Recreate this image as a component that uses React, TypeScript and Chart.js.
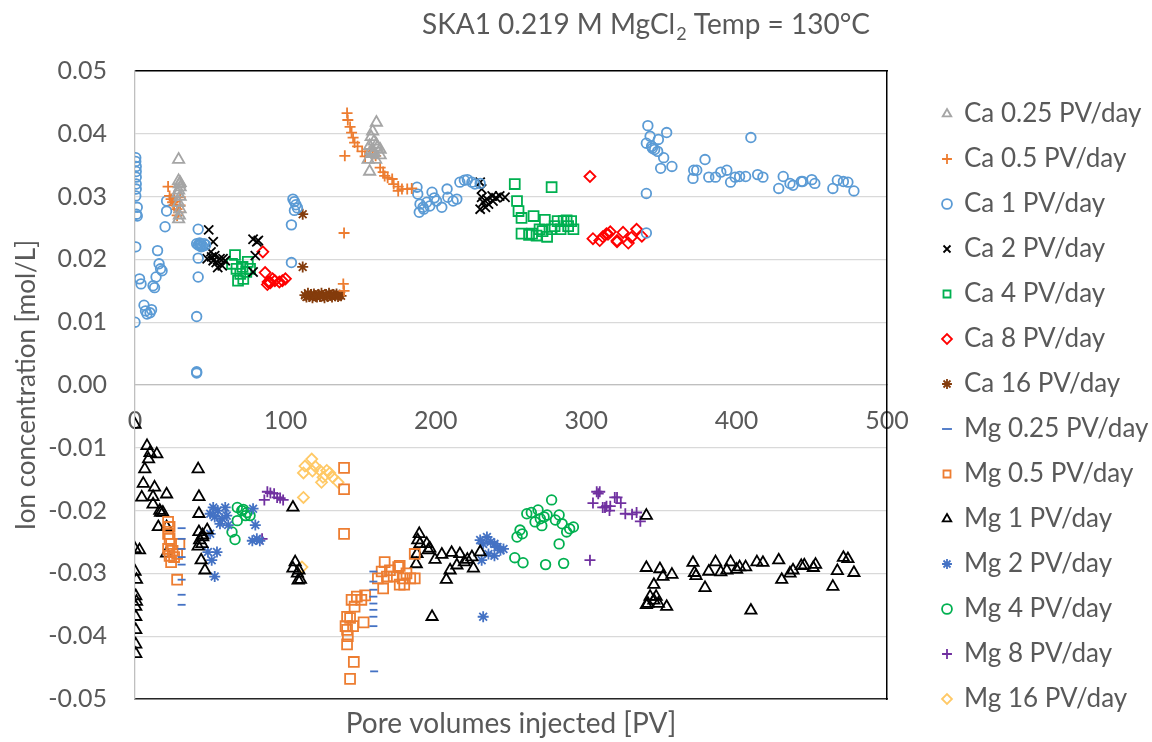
import React, { useEffect, useRef } from 'react';
import { Chart, registerables } from 'chart.js';
Chart.register(...registerables);

const FONT = 'Lato, "Open Sans", sans-serif';
const TEXT = '#595959';

const titleMain = 'SKA1 0.219 M MgCl';
const titleSub = '2';
const titleEnd = ' Temp = 130°C';
const xTitle = 'Pore volumes injected [PV]';
const yTitle = 'Ion concentration [mol/L]';
const xTicks = [0, 100, 200, 300, 400, 500];
const yTicks = [-0.05, -0.04, -0.03, -0.02, -0.01, 0, 0.01, 0.02, 0.03, 0.04, 0.05];

type P = [number, number];

const caQuarter: P[] = [[29,0.0359],[29,0.0325],[29.5,0.032],[30,0.0315],[29,0.031],[30,0.030],[29,0.029],[30,0.028],[29.5,0.027],[29,0.0264],[28.5,0.0305],[30,0.0322],
  [160.5,0.0418],[158,0.0404],[157,0.0395],[159,0.0388],[160.5,0.0383],[156,0.0381],[163,0.0375],[157,0.0373],[158,0.0368],[163,0.0366],[155,0.0359],[160,0.0359],[156,0.034],[161,0.0378],[159,0.037]];
const caHalf: P[] = [[22,0.0316],[23,0.0301],[24,0.0296],[25,0.0291],[26,0.0286],[28,0.028],[29,0.0275],[28,0.027],[30,0.0299],[30,0.0286],[26,0.030],[27,0.0292],
  [139.5,0.0365],[141,0.0433],[141.5,0.0422],[143,0.0411],[144,0.0402],[145,0.0394],[146,0.0386],[148,0.038],[151,0.0372],[153,0.0364],[156,0.0372],[158,0.0368],[160,0.0365],[163,0.0346],[165,0.0339],[166,0.0333],[168,0.033],[171,0.0328],[172,0.032],[175,0.0316],[177.5,0.0312],[181,0.0312],[184,0.0313],[175,0.0309],[139,0.0242],[138.5,0.0161],[139,0.015]];
const caOne: P[] = [[0.5,0.0362],[0.5,0.0356],[0.8,0.0348],[0.8,0.034],[0.8,0.0331],[0.8,0.032],[0.8,0.0312],[0.5,0.0301],[1.5,0.0283],[1,0.0272],[1.5,0.0269],[0.5,0.022],[0,0.0100],
  [3,0.0169],[4,0.0161],[6,0.0127],[7,0.0118],[8,0.0113],[10,0.0115],[11,0.012],[12,0.0158],[13,0.0155],[14,0.0172],[16,0.0193],[17,0.0185],[18,0.0182],[15,0.0214],[21,0.0293],[21,0.0277],[20,0.0252],
  [42,0.0248],[41,0.0225],[42,0.0223],[43,0.0222],[44,0.0224],[45,0.0221],[46,0.0225],[47,0.0223],[43,0.0226],[42,0.0202],[42,0.0172],[41,0.0109],[41,0.0021],[41,0.0019],[44,0.022],
  [105,0.0296],[106,0.0292],[107,0.0287],[108,0.0282],[106,0.0278],[104,0.0255],[104,0.0195],
  [187.5,0.0315],[188,0.0304],[189.5,0.0288],[189,0.0275],[191.5,0.0283],[194,0.0291],[196,0.0285],[197.5,0.0307],[200.5,0.0293],[204,0.0283],[207.5,0.0312],[208,0.0299],[211.5,0.0293],[214,0.0296],[216,0.0323],[219,0.0326],[221,0.0327],[224,0.0323],[226,0.032],[229.5,0.0321],[192,0.028],[199,0.0298],
  [341,0.0413],[342.5,0.0396],[340,0.0385],[343.5,0.038],[344,0.0377],[345.5,0.0375],[347.5,0.0372],[348,0.0391],[353.5,0.0402],[351.5,0.0362],[349.5,0.0345],[357,0.0348],[340,0.0305],[340,0.0242],
  [371,0.0329],[371.5,0.0342],[373.5,0.0342],[379,0.0359],[381.5,0.0331],[386,0.0331],[389.5,0.0339],[393.5,0.0342],[396,0.0323],[399,0.0331],[402,0.0332],[406,0.0332],[409.5,0.0394],[414,0.0335],[417.5,0.0331],[428,0.0313],[431,0.0332],[435.5,0.0321],[437.5,0.0318],[443,0.0324],[444,0.0324],[450,0.0327],[452,0.0321],[464,0.0313],[467,0.0326],[471,0.0324],[474,0.0323],[478,0.0309]];
const caTwo: P[] = [[49,0.0247],[52,0.0228],[50.5,0.0212],[53,0.0206],[56.5,0.0201],[52,0.0198],[58,0.019],[55,0.0187],[51,0.0204],[58.5,0.0201],[48,0.0201],[54,0.0195],[60,0.0198],
  [78.5,0.0232],[81,0.0228],[82,0.023],[80,0.0206],[78.5,0.018],
  [229.5,0.0323],[230.5,0.0312],[230.5,0.0299],[231.5,0.0291],[229.5,0.028],[234,0.0296],[237.5,0.0301],[240,0.0298],[242.5,0.0301],[246,0.0299],[235,0.0288],[233,0.0283],[238,0.0293]];
const caFour: P[] = [[66.5,0.0207],[64.5,0.0193],[67.5,0.0185],[70,0.0177],[68.5,0.0166],[72,0.0169],[75,0.0196],[74,0.018],[71.5,0.0188],[76.5,0.0185],
  [252.5,0.032],[277,0.0315],[254,0.0293],[255,0.0277],[257,0.0266],[265,0.0269],[272.5,0.0263],[257,0.0241],[262,0.0239],[264,0.0241],[267,0.0238],[269,0.0248],[271,0.0245],[274,0.0236],[277,0.0248],[279,0.0253],[281,0.0261],[285,0.0261],[287,0.0262],[290,0.0261],[291.5,0.0248],[288,0.0253],[283,0.0248]];
const caEight: P[] = [[85,0.0212],[86.5,0.0179],[88.5,0.0164],[90,0.0163],[93,0.0166],[96,0.0164],[98,0.0166],[100,0.0169],[88,0.016],[91.5,0.0169],
  [302.5,0.0332],[304.5,0.0233],[309,0.023],[311,0.0236],[313.5,0.0241],[316,0.0244],[320.5,0.023],[314.5,0.024],[320.5,0.0228],[324.5,0.0243],[328,0.0226],[330,0.0235],[333.5,0.0248],[337,0.0237]];
const caSixteen: P[] = [[113,0.0143],[114,0.0140],[115,0.0146],[116,0.0141],[117,0.0144],[118,0.0139],[119,0.0145],[120,0.0142],[121,0.0140],[122,0.0144],[123,0.0141],[124,0.0146],[125,0.0142],[126,0.0139],[127,0.0144],[128,0.0141],[129,0.0146],[130,0.0143],[131,0.0140],[132,0.0144],[133,0.0142],[134,0.0145],[135,0.0141],[136,0.0143],[137,0.0142],[111.5,0.0272],[111.5,0.0188]];

const mgQuarter: P[] = [[31,-0.0228],[31,-0.0245],[31,-0.0261],[31,-0.0274],[31,-0.0286],[31,-0.031],[31,-0.0334],[31,-0.035],
  [158.5,-0.0297],[158.5,-0.0313],[158.5,-0.0326],[158.5,-0.0337],[158.5,-0.0348],[158.5,-0.0358],[158.5,-0.0369],[158.5,-0.0384],[159,-0.0456]];
const mgHalf: P[] = [[22,-0.0218],[23,-0.0226],[22,-0.0237],[23,-0.0245],[24,-0.0253],[22,-0.0261],[25,-0.0264],[23,-0.0272],[26,-0.0274],[24,-0.0282],[28,-0.0269],[29.5,-0.0253],[28,-0.031],
  [139,-0.0132],[139,-0.0166],[139,-0.0237],[141,-0.0369],[140,-0.0384],[141.5,-0.04],[141,-0.0413],[145.5,-0.0441],[143,-0.0468],[145,-0.0384],[144,-0.0342],[147.5,-0.0337],[150.5,-0.0342],[153,-0.0335],[152,-0.0378],[141,-0.039],[143,-0.0371],[146,-0.0353],
  [161.5,-0.0308],[164,-0.0297],[165,-0.0324],[167.5,-0.0305],[169.5,-0.0295],[172,-0.0305],[175,-0.029],[176,-0.0288],[178,-0.0308],[180.5,-0.03],[183,-0.0308],[186,-0.0308],[176,-0.0318],[179,-0.0318],[186,-0.0269],[166,-0.0282]];
const mgOne: P[] = [[0,-0.0063],[0,-0.0261],[3,-0.0263],[0,-0.0297],[1,-0.031],[0.5,-0.0336],[1,-0.0345],[0.5,-0.0353],[0.5,-0.0369],[0.5,-0.039],[0.5,-0.0413],[0.5,-0.0428],
  [8,-0.0097],[10,-0.0108],[14.5,-0.011],[9,-0.0118],[6.5,-0.0134],[5.5,-0.0157],[4.5,-0.0179],[13,-0.0163],[12,-0.0178],[21,-0.0174],[12,-0.019],[16.5,-0.02],[17,-0.0203],[15.5,-0.0226],[21,-0.0226],[21,-0.0268],[18.5,-0.0203],
  [42,-0.0134],[42.5,-0.0178],[42.5,-0.0205],[42.5,-0.0234],[43,-0.0247],[44.5,-0.0253],[45,-0.0239],[42,-0.0257],[44,-0.0279],[46.5,-0.0295],[45,-0.0242],[48,-0.0231],
  [105,-0.0195],[106.5,-0.0282],[105,-0.0292],[108,-0.03],[108.5,-0.0311],[110,-0.031],[109,-0.0295],
  [189,-0.0237],[188,-0.0247],[189.5,-0.0253],[187.5,-0.0269],[187,-0.0285],[194,-0.0253],[195,-0.0263],[196,-0.026],[199.5,-0.0278],[204,-0.027],[210.5,-0.0267],[216,-0.0269],[209.5,-0.0295],[207,-0.031],[214,-0.0287],[219,-0.0282],[221,-0.0278],[224,-0.0274],[225,-0.0292],[229.5,-0.0266],[197.5,-0.0369],
  [340,-0.0208],[340,-0.0291],[349,-0.0293],[351,-0.0305],[357,-0.0302],[345,-0.0318],[342.5,-0.0337],[341,-0.0348],[345,-0.0343],[346.5,-0.0337],[348,-0.0348],[353.5,-0.0353],[340,-0.035],
  [371,-0.0283],[372,-0.0299],[373,-0.0304],[379,-0.0323],[381.5,-0.0297],[386,-0.0282],[389.5,-0.0298],[393.5,-0.0295],[396,-0.0282],[400,-0.0294],[402,-0.029],[406,-0.029],[409.5,-0.0359],[413.5,-0.0282],[417.5,-0.0283],[428,-0.0279],[430,-0.031],[435.5,-0.03],[437.5,-0.0295],[443,-0.0288],[445,-0.0287],[451,-0.0291],[452.5,-0.0286],[464,-0.0321],[467,-0.0296],[471,-0.0275],[474,-0.0277],[478,-0.0299]];
const mgTwo: P[] = [[52,-0.0195],[55,-0.02],[60,-0.0195],[50,-0.0205],[53,-0.021],[58,-0.0213],[61,-0.0208],[56.5,-0.0221],[62,-0.0223],[50,-0.0237],[48.5,-0.0266],[54.5,-0.0266],[51,-0.0279],[53,-0.0305],[78.5,-0.0197],[80,-0.0223],[81,-0.0245],[83,-0.0248],[78,-0.0248],
  [229.5,-0.0247],[231.5,-0.0253],[234,-0.0242],[236.5,-0.025],[239,-0.0253],[241,-0.0258],[243,-0.0263],[245,-0.0261],[230.5,-0.0279],[235,-0.0269],[239,-0.0272],[231.5,-0.0369]];
const mgFour: P[] = [[68,-0.0195],[72,-0.0198],[74.5,-0.0203],[76.5,-0.0208],[73.5,-0.0208],[68,-0.0216],[64.5,-0.0234],[66.5,-0.0246],[71,-0.02],
  [256,-0.0231],[254,-0.0242],[257.5,-0.0237],[260.5,-0.0205],[263.5,-0.0203],[268,-0.0199],[266,-0.0218],[269.5,-0.0213],[270.5,-0.0224],[274,-0.0207],[277,-0.0183],[279.5,-0.0215],[282,-0.0207],[284,-0.0221],[287,-0.0234],[289,-0.0229],[291.5,-0.0226],[282,-0.0253],[252.5,-0.0275],[258,-0.0283],[273,-0.0286],[285,-0.0284],[272,-0.021]];
const mgEight: P[] = [[88,-0.017],[90,-0.0172],[92.5,-0.0173],[94.5,-0.0179],[96.5,-0.018],[98.5,-0.0183],[86,-0.0183],[84.5,-0.0245],
  [307,-0.017],[308,-0.0173],[304.5,-0.0188],[311,-0.0195],[313.5,-0.0193],[315.5,-0.02],[319,-0.0179],[302.5,-0.0279],
  [309,-0.017],[312.5,-0.0195],[316,-0.0193],[320.5,-0.0179],[323,-0.0188],[326,-0.0205],[330.5,-0.0206],[333.5,-0.0203],[336,-0.0217]];
const mgSixteen: P[] = [[117.5,-0.0118],[113,-0.0129],[120,-0.013],[123,-0.0136],[118,-0.0137],[112,-0.014],[125,-0.0147],[129.5,-0.014],[131.5,-0.0147],[124,-0.0155],[135,-0.0155],[112,-0.0179],[111,-0.029],[127.5,-0.0136]];

const seriesLabels = ['Ca 0.25 PV/day','Ca 0.5 PV/day','Ca 1 PV/day','Ca 2 PV/day','Ca 4 PV/day','Ca 8 PV/day','Ca 16 PV/day',
  'Mg 0.25 PV/day','Mg 0.5 PV/day','Mg 1 PV/day','Mg 2 PV/day','Mg 4 PV/day','Mg 8 PV/day','Mg 16 PV/day'];
const seriesData: P[][] = [caQuarter, caHalf, caOne, caTwo, caFour, caEight, caSixteen, mgQuarter, mgHalf, mgOne, mgTwo, mgFour, mgEight, mgSixteen];
const seriesColors = ['#A5A5A5','#ED7D31','#5B9BD5','#000000','#00B050','#FF0000','#843C0C','#4472C4','#ED7D31','#000000','#4472C4','#00B050','#7030A0','#FFC966'];
const seriesStyles = ['triangle','cross','circle','crossRot','rect','rectRot','star','line','rect','triangle','star','circle','cross','rectRot'];
const seriesRadius = [6.5, 5.5, 4.8, 6.5, 7, 5.5, 5.5, 4, 7, 6.5, 5.5, 4.8, 5.5, 5.5];

const LEGEND_LEFT = 924;
const PLOT_RIGHT = 887;

const titlePlugin = {
  id: 'subTitle',
  afterDraw(chart: any) {
    const c = chart.ctx as CanvasRenderingContext2D;
    c.save();
    c.fillStyle = TEXT;
    c.textBaseline = 'alphabetic';
    c.textAlign = 'left';
    const big = `28px ${FONT}`;
    const small = `18px ${FONT}`;
    c.font = big;
    const w1 = c.measureText(titleMain).width;
    const w3 = c.measureText(titleEnd).width;
    c.font = small;
    const w2 = c.measureText(titleSub).width;
    let x = 646 - (w1 + w2 + w3 + 1) / 2;
    const base = 34;
    c.font = big; c.fillText(titleMain, x, base); x += w1;
    c.font = small; c.fillText(titleSub, x + 1, base + 6); x += w2 + 1;
    c.font = big; c.fillText(titleEnd, x, base);
    c.restore();
  },
};

const legendWidthPlugin = {
  id: 'legendWidth',
  afterInit(chart: any) {
    const lg = chart.legend;
    if (!lg || lg.__patched) return;
    const orig = lg.fit;
    lg.fit = function () {
      orig.call(this);
      this.width = 1152 - LEGEND_LEFT;
    };
    lg.__patched = true;
  },
};

export default function App() {
  const ref = useRef<HTMLCanvasElement>(null);
  useEffect(() => {
    document.body.style.margin = '0';
    const canvas = ref.current!;
    const ctx = canvas.getContext('2d')!;
    const tickFont = { family: FONT, size: 25 };

    const chart = new Chart(ctx, {
      type: 'scatter',
      data: {
        datasets: seriesData.map((pts, i) => ({
          label: seriesLabels[i],
          data: pts.map(([x, y]) => ({ x, y })),
          pointStyle: seriesStyles[i] as any,
          pointRadius: seriesRadius[i],
          borderColor: seriesColors[i],
          backgroundColor: 'rgba(0,0,0,0)',
          borderWidth: 1.8,
          showLine: false,
          xAxisID: 'x',
          yAxisID: 'y',
        })),
      },
      options: {
        responsive: false,
        animation: false,
        events: [],
        layout: { padding: { top: 71, bottom: 0, left: 0, right: 0 } },
        plugins: {
          title: { display: false },
          tooltip: { enabled: false },
          legend: {
            display: true,
            position: 'right',
            align: 'center',
            labels: {
              usePointStyle: true,
              boxWidth: 8,
              boxHeight: 7,
              padding: 19,
              color: TEXT,
              font: { family: FONT, size: 26 },
            },
          },
        },
        scales: {
          x: {
            type: 'linear',
            position: { y: 0 } as any,
            min: 0,
            max: 500,
            afterBuildTicks: (s: any) => { s.ticks = xTicks.map((v) => ({ value: v })); },
            ticks: { padding: 21, color: TEXT, font: tickFont, callback: (v: any) => String(v) },
            grid: { display: false, drawTicks: false },
            border: { color: '#BFBFBF', width: 1.3 },
          },
          xb: {
            type: 'linear',
            position: 'bottom',
            min: 0,
            max: 500,
            ticks: { display: false },
            grid: { display: false, drawTicks: false },
            border: { color: '#262626', width: 1.5 },
            title: { display: true, text: xTitle, color: TEXT, font: { family: FONT, size: 28 }, padding: { top: 0, bottom: -3 } },
            afterFit: (s: any) => { s.height = 39; },
          },
          xt: {
            type: 'linear',
            position: 'top',
            min: 0,
            max: 500,
            ticks: { display: false },
            grid: { display: false, drawTicks: false },
            border: { color: '#000000', width: 1.5 },
            afterFit: (s: any) => { s.height = 0; },
          },
          y: {
            type: 'linear',
            position: 'left',
            min: -0.05,
            max: 0.05,
            afterBuildTicks: (s: any) => { s.ticks = yTicks.map((v) => ({ value: v })); },
            ticks: { padding: 28, color: TEXT, font: tickFont, callback: (v: any) => Number(v).toFixed(2) },
            grid: { color: '#D9D9D9', lineWidth: 1.3, drawTicks: false },
            border: { color: '#BFBFBF', width: 1.3 },
            title: { display: true, text: yTitle, color: TEXT, font: { family: FONT, size: 26 }, padding: { top: 11, bottom: 0 } },
            afterFit: (s: any) => { s.width = 135; },
          },
          yr: {
            type: 'linear',
            position: 'right',
            min: -0.05,
            max: 0.05,
            ticks: { display: false },
            grid: { display: false, drawTicks: false },
            border: { color: '#000000', width: 1.5 },
            afterFit: (s: any) => { s.width = LEGEND_LEFT - PLOT_RIGHT; },
          },
        },
      },
      plugins: [titlePlugin, legendWidthPlugin],
    });
    return () => chart.destroy();
  }, []);
  return (
    <div style={{ position: 'absolute', left: 0, top: 0, width: 1152, height: 742, background: '#fff' }}>
      <canvas ref={ref} width={1152} height={742} style={{ display: 'block' }} />
    </div>
  );
}
